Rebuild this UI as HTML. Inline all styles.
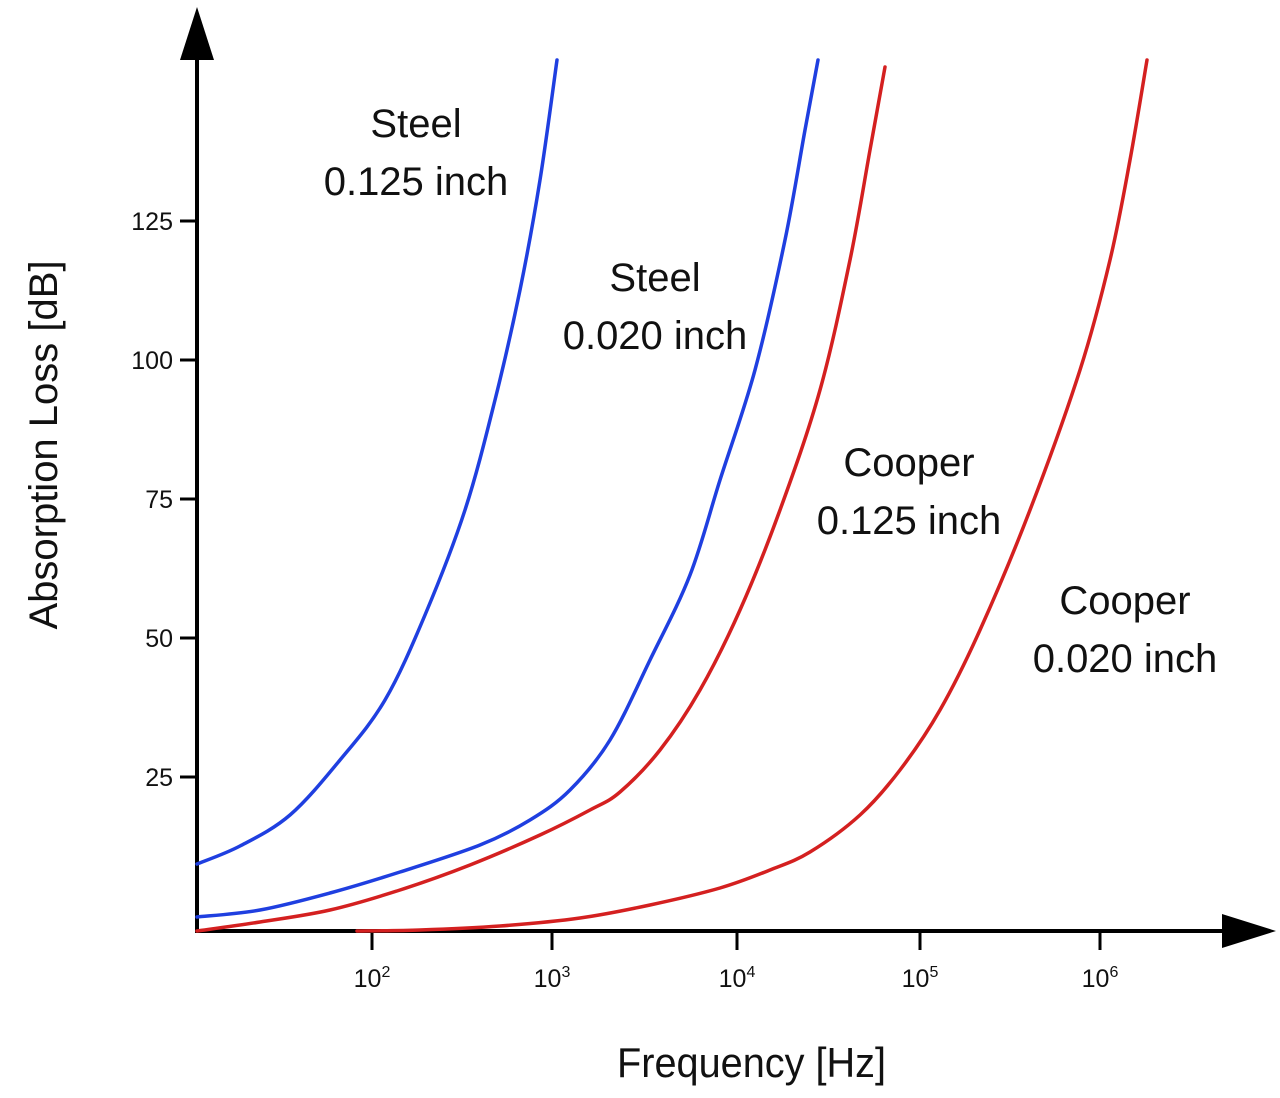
<!DOCTYPE html>
<html><head><style>
html,body{margin:0;padding:0;background:#fff;}
svg{display:block;}
text{font-family:"Liberation Sans",Arial,sans-serif;fill:#111;}
</style></head><body>
<svg id="s" width="1280" height="1098" viewBox="0 0 1280 1098" xmlns="http://www.w3.org/2000/svg">
<line x1="197" y1="55" x2="197" y2="933" stroke="#000" stroke-width="4"/>
<polygon points="197,7 180,60 214,60" fill="#000"/>
<line x1="195" y1="931" x2="1228" y2="931" stroke="#000" stroke-width="4"/>
<polygon points="1276,931 1222,914 1222,948" fill="#000"/>
<g stroke="#000" stroke-width="3">
<line x1="180" y1="221" x2="197" y2="221"/>
<line x1="180" y1="360" x2="197" y2="360"/>
<line x1="180" y1="499" x2="197" y2="499"/>
<line x1="180" y1="638" x2="197" y2="638"/>
<line x1="180" y1="777" x2="197" y2="777"/>
<line x1="372" y1="931" x2="372" y2="950"/>
<line x1="552" y1="931" x2="552" y2="950"/>
<line x1="737" y1="931" x2="737" y2="950"/>
<line x1="920" y1="931" x2="920" y2="950"/>
<line x1="1100" y1="931" x2="1100" y2="950"/>
</g>
<g font-size="25" text-anchor="end">
<text x="173" y="230">125</text>
<text x="173" y="369">100</text>
<text x="173" y="508">75</text>
<text x="173" y="647">50</text>
<text x="173" y="786">25</text>
</g>
<g font-size="25" text-anchor="middle">
<text x="372" y="987">10<tspan font-size="16" dy="-10">2</tspan></text>
<text x="552" y="987">10<tspan font-size="16" dy="-10">3</tspan></text>
<text x="737" y="987">10<tspan font-size="16" dy="-10">4</tspan></text>
<text x="920" y="987">10<tspan font-size="16" dy="-10">5</tspan></text>
<text x="1100" y="987">10<tspan font-size="16" dy="-10">6</tspan></text>
</g>
<text x="617" y="1077" font-size="42" textLength="269" lengthAdjust="spacingAndGlyphs">Frequency [Hz]</text>
<text transform="translate(57,445) rotate(-90)" font-size="40" text-anchor="middle">Absorption Loss [dB]</text>
<g id="curves" fill="none" stroke-width="3.5" stroke-linejoin="round" stroke-linecap="round">
<polyline stroke="#1f3fe0" points="197,864 240,846 290,815 340,760 385,700 425,615 465,510 495,400 520,290 540,180 557,60"/>
<polyline stroke="#1f3fe0" points="197,917 260,910 330,893 400,872 480,845 530,820 570,790 610,740 650,660 690,575 720,480 755,370 785,240 805,130 818,60"/>
<polyline stroke="#d42020" points="197,931 260,922 330,910 400,890 470,865 540,835 590,810 620,792 660,750 700,690 740,610 780,510 820,390 850,260 870,150 885,67"/>
<polyline stroke="#d42020" points="357,931 420,930 500,926 580,918 650,905 720,888 770,870 810,852 860,815 900,770 940,710 980,630 1030,510 1080,370 1110,260 1130,160 1147,60"/>
</g>
<g font-size="40" text-anchor="middle">
<text x="416" y="137">Steel</text>
<text x="416" y="195">0.125 inch</text>
<text x="655" y="291">Steel</text>
<text x="655" y="349">0.020 inch</text>
<text x="909" y="476">Cooper</text>
<text x="909" y="534">0.125 inch</text>
<text x="1125" y="614">Cooper</text>
<text x="1125" y="672">0.020 inch</text>
</g>
</svg>
<script>
(function(){
var g=document.getElementById('curves');
var pls=Array.prototype.slice.call(g.querySelectorAll('polyline'));
pls.forEach(function(pl){
 var p=pl.getAttribute('points').trim().split(/\s+/).map(function(s){return s.split(',').map(Number);});
 var d='M'+p[0][0]+','+p[0][1];
 for(var i=0;i<p.length-1;i++){
  var p0=p[i-1]||p[i],p1=p[i],p2=p[i+1],p3=p[i+2]||p2;
  var c1x=p1[0]+(p2[0]-p0[0])/6,c1y=p1[1]+(p2[1]-p0[1])/6;
  var c2x=p2[0]-(p3[0]-p1[0])/6,c2y=p2[1]-(p3[1]-p1[1])/6;
  d+=' C'+c1x+','+c1y+' '+c2x+','+c2y+' '+p2[0]+','+p2[1];
 }
 var path=document.createElementNS('http://www.w3.org/2000/svg','path');
 path.setAttribute('d',d);path.setAttribute('stroke',pl.getAttribute('stroke'));
 g.appendChild(path);g.removeChild(pl);
});
})();
</script>
</body></html>
